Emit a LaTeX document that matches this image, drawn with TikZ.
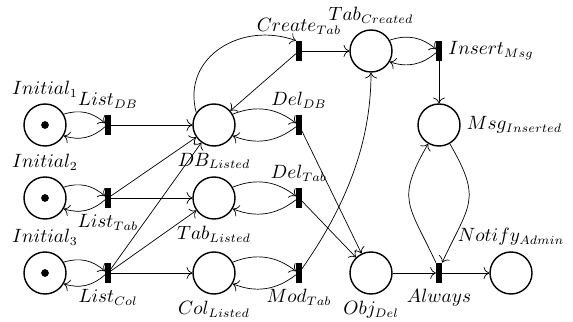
\documentclass[tikz,border=0pt]{standalone}
\usepackage{amsmath,amssymb}
\usepackage{tikz}
\usetikzlibrary{arrows.meta}
\tikzset{
  pl/.style={circle,draw,thick,minimum size=8.4mm,inner sep=0pt},
  tr/.style={rectangle,draw=none,fill=black,minimum width=1.1mm,minimum height=4mm,inner sep=0pt},
  arc/.style={-{To[scale=1.3]}},
  tk/.style={fill=black},
  every label/.style={font=\fontsize{10.6}{13}\selectfont}
}

\begin{document}
\begin{tikzpicture}
\useasboundingbox (0,0) rectangle (11.46,6.44);
\node[pl,label=above:$Initial_1$] (I1) at (0.9,3.94) {}; \fill[tk] (I1) circle (2.2pt);
\node[pl,label=above:$Initial_2$] (I2) at (0.9,2.48) {}; \fill[tk] (I2) circle (2.2pt);
\node[pl,label=above:$Initial_3$] (I3) at (0.9,0.98) {}; \fill[tk] (I3) circle (2.2pt);
\node[pl,label=below:$DB_{Listed}$] (DBL) at (4.28,3.94) {};
\node[pl,label=below:$Tab_{Listed}$] (TabL) at (4.28,2.48) {};
\node[pl,label=below:$Col_{Listed}$] (ColL) at (4.28,0.98) {};
\node[pl,label=above:$Tab_{Created}$] (TabC) at (7.42,5.42) {};
\node[pl,label=right:$Msg_{Inserted}$] (MsgI) at (8.78,3.94) {};
\node[pl,label=below:$Obj_{Del}$] (ObjD) at (7.42,0.98) {};
\node[pl,label=above:$Notify_{Admin}$] (NA) at (10.22,0.98) {};
\node[tr,label=above:$List_{DB}$] (LDB) at (2.16,3.94) {};
\node[tr,label=below:$List_{Tab}$] (LTab) at (2.16,2.48) {};
\node[tr,label=below:$List_{Col}$] (LCol) at (2.16,0.98) {};
\node[tr,label=above:$Create_{Tab}$] (CT) at (5.98,5.42) {};
\node[tr,label=above:$Del_{DB}$] (DDB) at (5.98,3.94) {};
\node[tr,label=above:$Del_{Tab}$] (DTab) at (5.98,2.48) {};
\node[tr,label=below:$Mod_{Tab}$] (MTab) at (5.98,0.98) {};
\node[tr,label=right:$Insert_{Msg}$] (IM) at (8.78,5.42) {};
\node[tr,label=below:$Always$] (Alw) at (8.78,0.98) {};
\draw[arc] (I1) to[bend left] (LDB); \draw[arc] (LDB) to[bend left] (I1);
\draw[arc] (I2) to[bend left] (LTab); \draw[arc] (LTab) to[bend left] (I2);
\draw[arc] (I3) to[bend left] (LCol); \draw[arc] (LCol) to[bend left] (I3);
\draw[arc] (LDB) -- (DBL);
\draw[arc] (LTab) -- (DBL); \draw[arc] (LTab) -- (TabL);
\draw[arc] (LCol) -- (DBL); \draw[arc] (LCol) -- (TabL); \draw[arc] (LCol) -- (ColL);
\draw[arc] (DBL.145) to[out=105,in=160,looseness=1.2] (CT.north west);
\draw[arc] (CT) -- (DBL);
\draw[arc] (DBL) to[bend left] (DDB); \draw[arc] (DDB) to[bend left] (DBL);
\draw[arc] (TabL) to[bend left] (DTab); \draw[arc] (DTab) to[bend left] (TabL);
\draw[arc] (ColL) to[bend left] (MTab); \draw[arc] (MTab) to[bend left] (ColL);
\draw[arc] (CT) -- (TabC);
\draw[arc] (TabC) to[bend left] (IM); \draw[arc] (IM) to[bend left] (TabC);
\draw[arc] (IM) -- (MsgI);
\draw[arc] (DDB) -- (ObjD); \draw[arc] (DTab) -- (ObjD);
\draw[arc] (MTab) to[out=55,in=270,looseness=0.9] (TabC);
\draw[arc] (ObjD) -- (Alw); \draw[arc] (Alw) -- (NA);
\draw[arc] (Alw.north west) to[out=115,in=240,looseness=1.4] (MsgI);
\draw[arc] (MsgI) to[out=-60,in=65,looseness=1.4] (Alw.north east);
\end{tikzpicture}
\end{document}
